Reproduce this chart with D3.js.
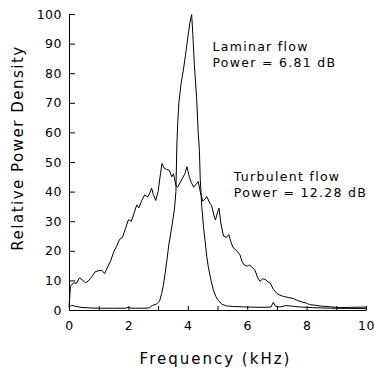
<!DOCTYPE html>
<html>
<head>
<meta charset="utf-8">
<script src="https://cdn.jsdelivr.net/npm/d3@7"></script>
<style>
  body { margin: 0; background: #fff; }
  svg text { font-family: "DejaVu Sans", sans-serif; fill: #000; }
</style>
</head>
<body>
<div id="chart"></div>
<script>
// frequency (kHz) / relative power density
const turbFreq = [0, 0.05, 0.15, 0.25, 0.35, 0.45, 0.55, 0.65, 0.75, 0.88, 1.0, 1.1, 1.2, 1.3, 1.4, 1.5, 1.6, 1.7, 1.8, 1.9,
    2.0, 2.1, 2.2, 2.28, 2.35, 2.45, 2.55, 2.65, 2.72, 2.78, 2.84, 2.92, 3.0, 3.08, 3.13, 3.2, 3.28, 3.38, 3.46, 3.52,
    3.6, 3.66, 3.74, 3.82, 3.9, 3.97, 4.05, 4.12, 4.2, 4.28, 4.35, 4.42, 4.5, 4.58, 4.64, 4.72, 4.8, 4.88, 4.93, 5.0,
    5.05, 5.12, 5.2, 5.3, 5.38, 5.45, 5.53, 5.65, 5.76, 5.82, 5.9, 6.0, 6.08, 6.15, 6.26, 6.35, 6.43, 6.52, 6.6, 6.7,
    6.78, 6.88, 7.0, 7.1, 7.22, 7.4, 7.55, 7.7, 7.85, 8.0, 8.1, 8.3, 8.5, 8.8, 9.1, 9.5, 10];
const turbVals = [1, 8, 9.2, 9, 10.8, 10.2, 9.2, 9.8, 11, 12.9, 13.3, 13.4, 12.3, 14.5, 16.5, 19.5, 21.5, 23.8, 24.5, 27.5,
    30.5, 30, 33, 35.5, 34.5, 37, 38.9, 38.2, 39.5, 41.2, 39, 37, 40, 46, 49.5, 48, 47.5, 47.2, 45, 46,
    42, 41.5, 43, 44.5, 46, 48.4, 45, 43, 41.5, 42.5, 43.4, 40, 36.8, 37.5, 38.3, 36.5, 35.3, 32, 30.4, 33,
    34.4, 29, 25, 24.5, 25.5, 23, 21, 20, 18.6, 16.5, 15.2, 14.8, 15.2, 14.6, 13.5, 11, 9.7, 10.5, 10.4, 9.5,
    9, 7, 5.6, 5, 4.6, 4.2, 3.9, 3.2, 2.7, 2.3, 1.8, 1.6, 1.3, 1.1, 0.8, 0.9, 1.0];

const lamFreq = [0, 0.08, 0.2, 0.4, 0.7, 1.0, 1.5, 1.9, 2.0, 2.1, 2.5, 2.7, 2.8, 2.95, 3.05, 3.12, 3.18, 3.23, 3.3, 3.36,
    3.46, 3.55, 3.6, 3.63, 3.66, 3.7, 3.78, 3.85, 3.92, 4.0, 4.07, 4.13, 4.17, 4.22, 4.3, 4.35, 4.39, 4.42, 4.47, 4.53,
    4.58, 4.64, 4.69, 4.78, 4.86, 4.95, 5.03, 5.15, 5.3, 5.5, 6.0, 6.5, 6.8, 6.88, 6.95, 7.1, 7.3, 7.5, 7.8, 8.2, 8.8, 10];
const lamVals = [0.8, 1.6, 1.3, 0.9, 0.7, 0.6, 0.6, 0.6, 0.9, 0.6, 0.6, 0.7, 1.5, 2.0, 3.0, 5.6, 8.5, 12, 17, 22,
    28, 34, 40, 55, 63, 70, 77, 81, 86, 92, 97, 99.8, 93, 83, 71, 60, 54, 44, 35, 28,
    23.5, 18, 14.6, 10, 6.8, 4.5, 3.2, 1.9, 1.4, 1.2, 1.0, 0.9, 1.0, 2.6, 1.3, 1.0, 1.5, 1.3, 1.0, 0.8, 0.6, 0.5];

const xTicks = [0, 1, 2, 3, 4, 5, 6, 7, 8, 9, 10];
const yTicks = [0, 10, 20, 30, 40, 50, 60, 70, 80, 90, 100];

const labels = [
    { lines: ["Laminar flow", "Power = 6.81 dB"], x: 4.83, y: 87.5 },
    { lines: ["Turbulent flow", "Power = 12.28 dB"], x: 5.55, y: 43.5 }
];

const margin = { top: 14, right: 8, bottom: 61, left: 69 };
const W = 374, H = 371;
const width = W - margin.left - margin.right;
const height = H - margin.top - margin.bottom;

const svg = d3.select("#chart").append("svg")
    .attr("width", W)
    .attr("height", H);
const g = svg.append("g")
    .attr("transform", `translate(${margin.left},${margin.top})`);

const x = d3.scaleLinear().domain([0, 10]).range([0, width]);
const y = d3.scaleLinear().domain([0, 100]).range([height, 0]);

// axes, ticks pointing inwards
const xAxis = g.append("g")
    .attr("transform", `translate(0,${height})`)
    .call(d3.axisBottom(x).tickValues(xTicks).tickSizeInner(-4).tickSizeOuter(0).tickPadding(11)
        .tickFormat(d => d % 2 === 0 ? d : ""));
const yAxis = g.append("g")
    .call(d3.axisLeft(y).tickValues(yTicks).tickSizeInner(-6).tickSizeOuter(0).tickPadding(7));

[xAxis, yAxis].forEach(a => {
    a.selectAll("path, line").attr("stroke", "#000").attr("stroke-width", 1);
    a.selectAll("text").style("font-size", "12.5px").style("letter-spacing", "0.5px");
});

const line = d3.line()
    .x(d => x(d[0]))
    .y(d => y(d[1]));

g.append("path")
    .datum(turbFreq.map((f, i) => [f, turbVals[i]]))
    .attr("fill", "none")
    .attr("stroke", "#000")
    .attr("stroke-width", 1)
    .attr("d", line);

g.append("path")
    .datum(lamFreq.map((f, i) => [f, lamVals[i]]))
    .attr("fill", "none")
    .attr("stroke", "#000")
    .attr("stroke-width", 1)
    .attr("d", line);

// annotations
labels.forEach(l => {
    const t = g.append("text")
        .attr("x", x(l.x))
        .attr("y", y(l.y))
        .style("font-size", "12.5px")
        .style("letter-spacing", "1.3px");
    l.lines.forEach((s, i) => {
        t.append("tspan").attr("x", x(l.x)).attr("dy", i === 0 ? 0 : 16).text(s);
    });
});

// axis titles
svg.append("text")
    .attr("x", margin.left + width / 2 - 2)
    .attr("y", 364)
    .attr("text-anchor", "middle")
    .style("font-size", "15px")
    .style("letter-spacing", "2px")
    .text("Frequency (kHz)");

svg.append("text")
    .attr("transform", `translate(23,${148}) rotate(-90)`)
    .attr("text-anchor", "middle")
    .style("font-size", "15px")
    .style("letter-spacing", "1.5px")
    .text("Relative Power Density");
</script>
</body>
</html>
